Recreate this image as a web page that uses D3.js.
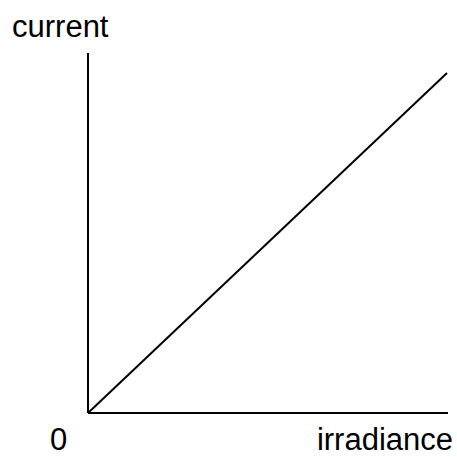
<!DOCTYPE html>
<html>
<head>
<meta charset="utf-8">
<script src="https://cdn.jsdelivr.net/npm/d3@7"></script>
<style>
  html, body { margin: 0; padding: 0; background: #fff; }
  svg { display: block; }
  text { font-family: "Liberation Sans", Arial, Helvetica, sans-serif; fill: #000; }
</style>
</head>
<body>
<script>
// Linear relation: photocurrent grows in proportion to irradiance.
const irradiance = [0, 1];
const current = [0, 1];
const axisLabels = { x: "irradiance", y: "current", origin: "0" };

const width = 457, height = 457;
const origin = { x: 88, y: 413 };

const x = d3.scaleLinear().domain([0, 1]).range([origin.x, 447]);
const y = d3.scaleLinear().domain([0, 1]).range([origin.y, 73]);

const svg = d3.select("body").append("svg")
  .attr("width", width).attr("height", height);

// Axes: plain lines without ticks
svg.append("line")
  .attr("x1", origin.x).attr("y1", origin.y)
  .attr("x2", origin.x).attr("y2", 53)
  .attr("stroke", "#000").attr("stroke-width", 2);
svg.append("line")
  .attr("x1", origin.x).attr("y1", origin.y)
  .attr("x2", 448).attr("y2", origin.y)
  .attr("stroke", "#000").attr("stroke-width", 2);

// The proportional response line
const line = d3.line().x((d, i) => x(irradiance[i])).y(d => y(d));
svg.append("path")
  .datum(current)
  .attr("d", line)
  .attr("fill", "none")
  .attr("stroke", "#000")
  .attr("stroke-width", 2);

// Labels
svg.append("text").attr("x", 12).attr("y", 37)
  .attr("font-size", 31).text(axisLabels.y);
svg.append("text").attr("x", 50).attr("y", 450)
  .attr("font-size", 31).text(axisLabels.origin);
svg.append("text").attr("x", 453).attr("y", 450)
  .attr("font-size", 31).attr("text-anchor", "end").text(axisLabels.x);
</script>
</body>
</html>
